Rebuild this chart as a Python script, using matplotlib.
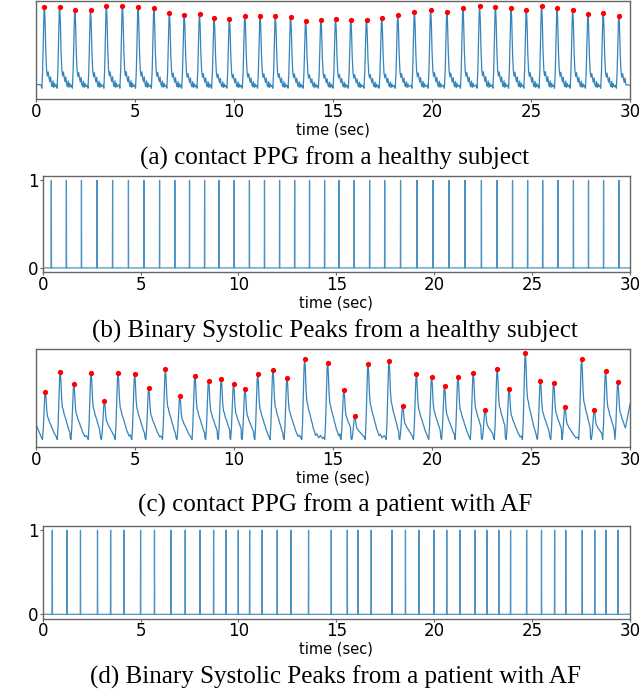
import numpy as np
import matplotlib
matplotlib.use("Agg")
import matplotlib.pyplot as plt

# ---------------- data ----------------
# (a) healthy subject: systolic peak times (s) and peak heights (axis fraction)
healthy_peak_t = [0.44, 1.21, 1.98, 2.77, 3.57, 4.38, 5.17, 5.97, 6.75, 7.50,
                  8.27, 9.01, 9.78, 10.56, 11.33, 12.10, 12.87, 13.63, 14.40, 15.14,
                  15.91, 16.70, 17.47, 18.28, 19.12, 19.94, 20.76, 21.57, 22.41, 23.21,
                  24.00, 24.77, 25.54, 26.32, 27.11, 27.88, 28.65, 29.44]
healthy_peak_v = [0.942, 0.942, 0.908, 0.905, 0.946, 0.953, 0.939, 0.925, 0.875, 0.858,
                  0.864, 0.831, 0.817, 0.851, 0.847, 0.847, 0.841, 0.797, 0.810, 0.820,
                  0.803, 0.810, 0.831, 0.854, 0.888, 0.908, 0.888, 0.925, 0.949, 0.942,
                  0.929, 0.908, 0.953, 0.925, 0.905, 0.864, 0.881, 0.851]
healthy_trough = 0.11
healthy_start_end = [0.15, 0.14]
# beat shape (healthy): offset from peak (s), relative level
healthy_shape_dt = [-0.17, -0.13, -0.09, -0.05, -0.02, 0.0, 0.03, 0.07, 0.11, 0.15,
                    0.19, 0.23, 0.27, 0.31, 0.35, 0.39, 0.43, 0.47, 0.51, 0.55]
healthy_shape_v = [0.04, 0.0, 0.22, 0.65, 0.95, 1.0, 0.85, 0.45, 0.22, 0.15,
                   0.20, 0.13, 0.08, 0.14, 0.05, 0.02, 0.09, 0.01, 0.06, 0.02]

# (c) patient with AF
af_peak_t = [0.49, 1.24, 1.93, 2.80, 3.47, 4.16, 5.00, 5.71, 6.55, 7.28,
             8.04, 8.73, 9.37, 9.99, 10.57, 11.21, 11.98, 12.69, 13.58, 14.74,
             15.56, 16.11, 16.78, 17.84, 18.53, 19.22, 19.99, 20.64, 21.32, 22.09,
             22.69, 23.30, 23.90, 24.72, 25.48, 26.15, 26.72, 27.56, 28.20, 28.77, 29.39]
af_peak_v = [0.567, 0.771, 0.642, 0.758, 0.468, 0.758, 0.744, 0.601, 0.795, 0.519,
             0.730, 0.679, 0.696, 0.645, 0.594, 0.741, 0.788, 0.710, 0.898, 0.860,
             0.584, 0.314, 0.843, 0.877, 0.420, 0.741, 0.717, 0.621, 0.720, 0.758,
             0.382, 0.795, 0.597, 0.956, 0.679, 0.659, 0.406, 0.901, 0.382, 0.778, 0.666]
af_trough = 0.08
af_start_end = [0.24, 0.44]
af_shape_dt = [-0.19, -0.15, -0.11, -0.07, -0.03, 0.0, 0.03, 0.07, 0.11, 0.15, 0.19,
               0.23, 0.28, 0.33, 0.38, 0.43, 0.49, 0.55, 0.62, 0.70, 0.80, 0.90]
af_shape_v = [0.03, 0.0, 0.2, 0.55, 0.92, 1.0, 0.88, 0.6, 0.47, 0.44, 0.38,
              0.34, 0.30, 0.24, 0.20, 0.14, 0.10, 0.05, 0.07, 0.02, 0.05, 0.01]

x_ticks = [0, 5, 10, 15, 20, 25, 30]
captions = ["(a) contact PPG from a healthy subject",
            "(b) Binary Systolic Peaks from a healthy subject",
            "(c) contact PPG from a patient with AF",
            "(d) Binary Systolic Peaks from a patient with AF"]
xlabel = "time (sec)"


def build_trace(pt, pv, trough, se, sdt, sv):
    xs, ys = [0.0], [se[0]]
    for i, (t, v) in enumerate(zip(pt, pv)):
        nxt = pt[i + 1] if i + 1 < len(pt) else 30.0
        for d, r in zip(sdt, sv):
            tt = t + d
            if d > 0 and tt > nxt - 0.19:
                continue
            if tt <= xs[-1] or tt >= 30:
                continue
            xs.append(tt)
            ys.append(trough + (v - trough) * r)
    xs.append(30.0)
    ys.append(se[1])
    return xs, ys


def build_binary(pt):
    xs, ys = [0.0], [0.0]
    for t in pt:
        xs += [t - 0.01, t, t + 0.01]
        ys += [0.0, 1.0, 0.0]
    xs.append(30.0)
    ys.append(0.0)
    return xs, ys


W, H = 640, 691
fig = plt.figure(figsize=(W / 100, H / 100), dpi=100)

def px_rect(left, top, right, bottom):
    return [left / W, 1 - bottom / H, (right - left) / W, (bottom - top) / H]

rects = [px_rect(35.7, 1, 630, 99),
         px_rect(42.7, 176, 630, 272.3),
         px_rect(35.7, 349, 630, 447.3),
         px_rect(42.7, 526, 630, 618.5)]
cap_baseline = [165, 338, 512, 684]
cap_width = [387, None, 396.5, 494]
cap_cx = 335
blue = "#1f77b4"
spine_col = "0.4"

axes = [fig.add_axes(r) for r in rects]
for k, ax in enumerate(axes):
    if k in (0, 2):
        if k == 0:
            xs, ys = build_trace(healthy_peak_t, healthy_peak_v, healthy_trough,
                                 healthy_start_end, healthy_shape_dt, healthy_shape_v)
            px, pv = healthy_peak_t, healthy_peak_v
        else:
            xs, ys = build_trace(af_peak_t, af_peak_v, af_trough,
                                 af_start_end, af_shape_dt, af_shape_v)
            px, pv = af_peak_t, af_peak_v
        ax.plot(xs, ys, color=blue, lw=0.9, alpha=0.9)
        ax.plot(px, pv, "o", color="red", ms=3.8, mec="none")
        ax.set_ylim(0, 1)
        ax.set_yticks([])
    else:
        pt = healthy_peak_t if k == 1 else af_peak_t
        xs, ys = build_binary(pt)
        ax.plot(xs, ys, color=blue, lw=0.9, alpha=0.8)
        ax.set_ylim(-0.05, 1.05)
        ax.set_yticks([0, 1])
    ax.set_xlim(0, 30)
    ax.set_xticks(x_ticks)
    ax.tick_params(labelsize=12, length=2, pad=0.8, color=spine_col, width=0.8)
    ax.set_xlabel(xlabel, fontsize=10.5, labelpad=1)
    for s in ax.spines.values():
        s.set_color(spine_col)
        s.set_linewidth(1.0)

# captions: font size chosen so the measured caption widths match
renderer = fig.canvas.get_renderer()
base_fs = 18.0
texts = [fig.text(cap_cx / W, 1 - cap_baseline[k] / H, cap, ha="center",
                  va="baseline", fontsize=base_fs, family="Liberation Serif")
         for k, cap in enumerate(captions)]
ratios = []
for t, w in zip(texts, cap_width):
    if w is not None:
        ratios.append(w / t.get_window_extent(renderer).width)
fs = base_fs * float(np.mean(ratios))
for t in texts:
    t.set_fontsize(fs)

fig.savefig("out.png", dpi=100)
